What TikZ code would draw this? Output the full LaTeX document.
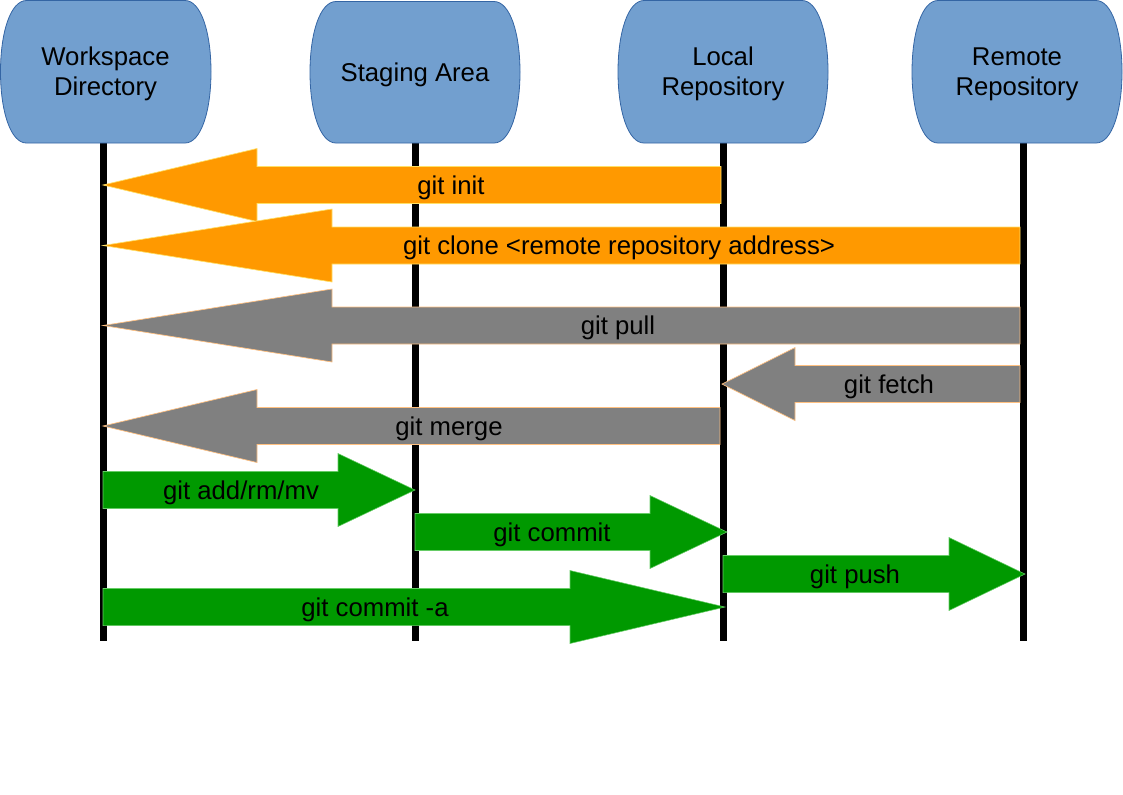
\documentclass[tikz,border=0pt]{standalone}
\usepackage{fontspec}
\setmainfont{Liberation Sans}
\definecolor{nodeblue}{HTML}{729FCF}
\definecolor{nodeedge}{HTML}{3465A4}
\definecolor{orangefill}{HTML}{FF9900}
\definecolor{orangeedge}{HTML}{FFE066}
\definecolor{grayfill}{HTML}{808080}
\definecolor{grayedge}{HTML}{FFC080}
\definecolor{greenfill}{HTML}{009900}
\definecolor{greenedge}{HTML}{66CC66}
\tikzset{
  lanestyle/.style={fill=nodeblue,draw=nodeedge,line width=0.6pt},
  lanetext/.style={align=center,font=\fontsize{19.3}{22.5}\selectfont,inner sep=0pt},
  lifeline/.style={line width=5.25pt,black},
  orangearrow/.style={fill=orangefill,draw=orangeedge,line width=0.5pt},
  grayarrow/.style={fill=grayfill,draw=grayedge,line width=0.5pt},
  greenarrow/.style={fill=greenfill,draw=greenedge,line width=0.4pt},
  arrowlabel/.style={font=\fontsize{19.3}{22.5}\selectfont,inner sep=0pt,anchor=base}
}
\newcommand\lanebox[4]{%
  \pgfmathsetmacro\lbm{(#3+#4)/2}%
  \pgfmathsetmacro\lbk{0.5523*(#4-#3)/2}%
  \filldraw[lanestyle] ({#1+26},#3) -- ({#2-26},#3)
    .. controls ({#2-10},#3) and (#2,{\lbm-\lbk}) .. (#2,\lbm)
    .. controls (#2,{\lbm+\lbk}) and ({#2-10},#4) .. ({#2-26},#4)
    -- ({#1+26},#4)
    .. controls ({#1+10},#4) and (#1,{\lbm+\lbk}) .. (#1,\lbm)
    .. controls (#1,{\lbm-\lbk}) and ({#1+10},#3) .. ({#1+26},#3) -- cycle;
}
\newcommand\blockarrow[8]{%
  \filldraw[#1] (#2,{#5-18.5}) -- (#3,{#5-18.5}) -- (#3,{#5-36.5}) -- (#4,#5)
    -- (#3,{#5+36.5}) -- (#3,{#5+18.5}) -- (#2,{#5+18.5}) -- cycle;
  \node[arrowlabel] (#6) at (#7,{#5+9}) {#8};
}
\begin{document}
\begin{tikzpicture}[x=0.75pt,y=-0.75pt]
\useasboundingbox (0,0) rectangle (1123,794);
% lifelines
\coordinate (wstop) at (103,143); \coordinate (wsbot) at (103,641);
\coordinate (sttop) at (415,143); \coordinate (stbot) at (415,641);
\coordinate (lotop) at (723,143); \coordinate (lobot) at (723,641);
\coordinate (retop) at (1023,143); \coordinate (rebot) at (1023,641);
\draw[lifeline] (wstop) -- (wsbot);
\draw[lifeline] (sttop) -- (stbot);
\draw[lifeline] (lotop) -- (lobot);
\draw[lifeline] (retop) -- (rebot);
% lane heads
\lanebox{0.5}{211}{0.5}{143}
\lanebox{310}{520}{1.5}{143}
\lanebox{618}{828}{0.5}{143}
\lanebox{912}{1122}{0.5}{143}
\node[lanetext] (ws) at (105.5,74) {Workspace\\Directory};
\node[lanetext] (st) at (415,75) {Staging Area};
\node[lanetext] (lo) at (723,74) {Local\\Repository};
\node[lanetext] (re) at (1017,74.5) {Remote\\Repository};
% arrows
\blockarrow{orangearrow}{721}{257}{103}{185}{init}{451}{git init}
\blockarrow{orangearrow}{1020}{332}{103}{245.5}{clone}{619}{git clone <remote repository address>}
\blockarrow{grayarrow}{1020}{332}{103}{325.5}{pull}{618}{git pull}
\blockarrow{grayarrow}{1020}{795}{722}{384}{fetch}{889}{git fetch}
\blockarrow{grayarrow}{720}{257}{103}{426}{merge}{449}{git merge}
\blockarrow{greenarrow}{103}{338}{415}{490}{add}{241}{git add/rm/mv}
\blockarrow{greenarrow}{415}{650}{727}{532}{commit}{552}{git commit}
\blockarrow{greenarrow}{723}{949}{1025}{574}{push}{855}{git push}
\blockarrow{greenarrow}{103}{570}{725}{607}{commita}{375}{git commit -a}
\end{tikzpicture}
\end{document}
